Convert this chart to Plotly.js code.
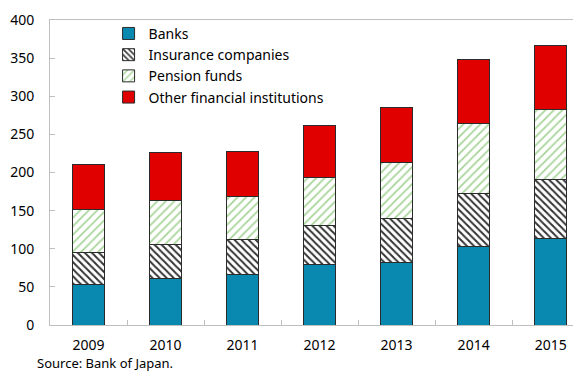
<!DOCTYPE html>
<html>
<head>
<meta charset="utf-8">
<script src="https://cdn.plot.ly/plotly-3.0.1.min.js"></script>
<style>html,body{margin:0;padding:0;background:#fff;}#chart{width:573px;height:373px;}</style>
</head>
<body>
<div id="chart"></div>
<script>
var years = ["2009", "2010", "2011", "2012", "2013", "2014", "2015"];
var banks = [52.5, 61.2, 65.6, 78.7, 82.6, 102.7, 113];
var insurance = [42.8, 44.8, 46.4, 52.4, 57.4, 70.0, 78.0];
var pension = [56.4, 57.0, 57.0, 62.6, 73.4, 91.0, 92.0];
var other = [58.3, 62.6, 58.8, 68.2, 72.1, 84.4, 83.0];
var yTicks = [0, 50, 100, 150, 200, 250, 300, 350, 400];

var outline = {color: "#2b2b2b", width: 1};
var traces = [
  {type: "bar", name: "Banks", x: years, y: banks,
   marker: {color: "#0A89B0", line: outline}},
  {type: "bar", name: "Insurance companies", x: years, y: insurance,
   marker: {color: "#ffffff", line: outline,
     pattern: {shape: "\\", fgcolor: "#333333", bgcolor: "#ffffff", size: 5, solidity: 0.4}}},
  {type: "bar", name: "Pension funds", x: years, y: pension,
   marker: {color: "#ffffff", line: outline,
     pattern: {shape: "/", fgcolor: "#A8D69A", bgcolor: "#ffffff", size: 6, solidity: 0.3}}},
  {type: "bar", name: "Other financial institutions", x: years, y: other,
   marker: {color: "#E00000", line: outline}}
];

var layout = {
  width: 573, height: 373,
  margin: {l: 50, r: 0, t: 20, b: 48},
  barmode: "stack",
  bargap: 0.58,
  paper_bgcolor: "#ffffff",
  plot_bgcolor: "#ffffff",
  font: {family: "Noto Sans, sans-serif", size: 14, color: "#000"},
  showlegend: true,
  legend: {x: 0.112, y: 1.007, xanchor: "left", yanchor: "top", traceorder: "normal",
    font: {size: 14}, bgcolor: "rgba(0,0,0,0)", tracegroupgap: 0},
  xaxis: {type: "category", range: [-0.5, 6.29], showline: true, linecolor: "#BFBFBF",
    linewidth: 1, mirror: true, ticks: "inside", ticklen: 5, tickcolor: "#BFBFBF",
    tickson: "boundaries", showgrid: false, ticklabelstandoff: 7, fixedrange: true},
  yaxis: {range: [0, 400], tickvals: yTicks, showline: true, linecolor: "#BFBFBF",
    linewidth: 1, mirror: true, ticks: "inside", ticklen: 5, tickcolor: "#BFBFBF",
    showgrid: false, zeroline: false, ticklabelstandoff: 12, fixedrange: true},
  annotations: [{text: "Source: Bank of Japan.", xref: "paper", yref: "paper",
    x: -0.027, y: -0.157, xanchor: "left", yanchor: "bottom", showarrow: false,
    borderpad: 0, font: {size: 13}}]
};
Plotly.newPlot("chart", traces, layout, {displayModeBar: false, staticPlot: true});
</script>
</body>
</html>
